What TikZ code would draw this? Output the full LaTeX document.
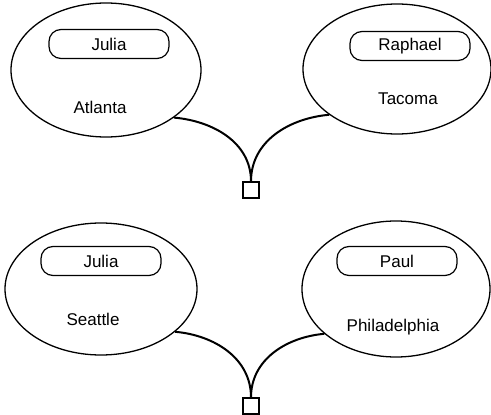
\documentclass[tikz,border=0pt]{standalone}
\usepackage{fontspec}
\setmainfont{Liberation Sans}
\usetikzlibrary{shapes.geometric}
\begin{document}
\begin{tikzpicture}[x=1pt,y=-1pt,
  every node/.style={font=\fontsize{17}{20}\selectfont},
  city/.style={draw, ellipse, line width=1.3pt, inner sep=0pt},
  pill/.style={draw, rectangle, rounded corners=12pt, line width=1.2pt,
    minimum width=120pt, minimum height=29pt, inner sep=0pt},
  place/.style={anchor=base, inner sep=0pt},
  link/.style={line width=2pt},
  joint/.style={draw, rectangle, line width=1.4pt, minimum size=16pt, inner sep=0pt}]
\useasboundingbox (0,0) rectangle (491,415);

% upper pair
\node[city, minimum width=190pt, minimum height=134pt] (e1) at (106,70) {};
\node[pill] (p1) at (109,44) {Julia};
\node[place] (c1) at (100,113) {Atlanta};

\node[city, minimum width=188pt, minimum height=130pt] (e2) at (397,69) {};
\node[pill] (p2) at (410,46) {Raphael};
\node[place] (c2) at (408,104) {Tacoma};

\node[joint] (s1) at (251,190) {};
\draw[link] (e1.-35) to[out=-5, in=90] (s1.north);
\draw[link] (e2.214) to[out=185, in=90] (s1.north);

% lower pair
\node[city, minimum width=192pt, minimum height=132pt] (e3) at (101,289) {};
\node[pill] (p3) at (101,261) {Julia};
\node[place] (c3) at (93,325) {Seattle};

\node[city, minimum width=188pt, minimum height=136pt] (e4) at (396,289) {};
\node[pill] (p4) at (397,261) {Paul};
\node[place] (c4) at (393,331) {Philadelphia};

\node[joint] (s2) at (251,406) {};
\draw[link] (e3.-30) to[out=-5, in=90] (s2.north);
\draw[link] (e4.212) to[out=185, in=90] (s2.north);
\end{tikzpicture}
\end{document}
